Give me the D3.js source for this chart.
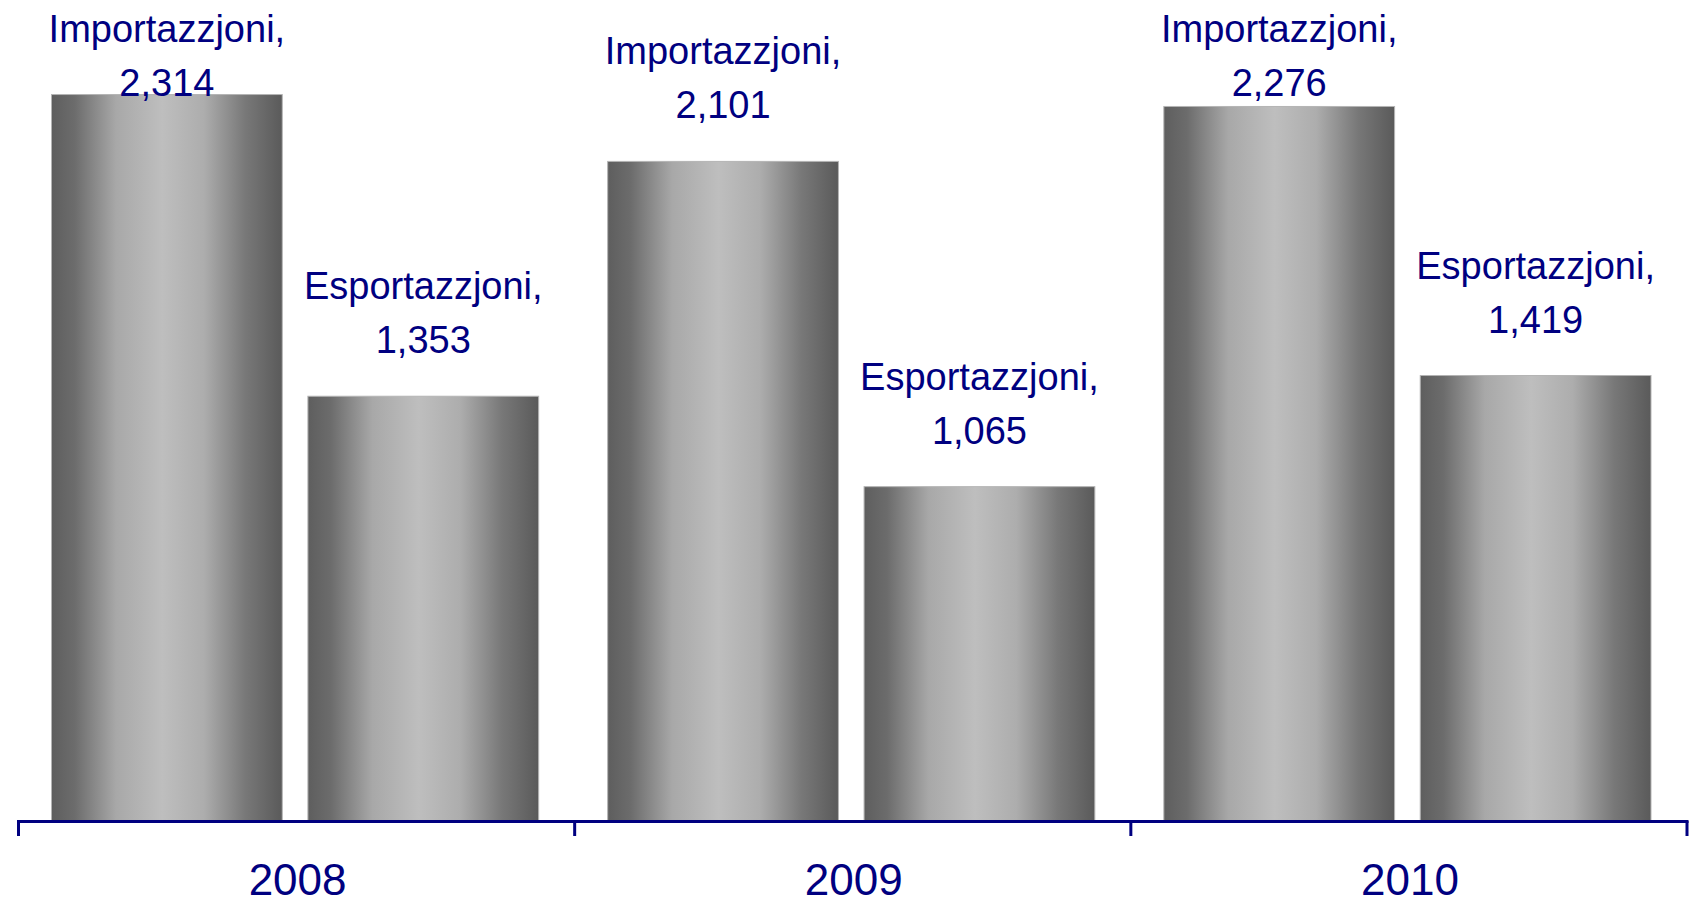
<!DOCTYPE html>
<html>
<head>
<meta charset="utf-8">
<title>Importazzjoni u Esportazzjoni</title>
<script src="https://cdn.jsdelivr.net/npm/d3@7"></script>
<style>
    html, body { margin: 0; padding: 0; background: #fff; }
    svg { display: block; }
    text { font-family: "Liberation Sans", Arial, sans-serif; fill: #000080; }
</style>
</head>
<body>
<div id="chart"></div>
<script>
/*jslint browser: true */

var years = ["2008", "2009", "2010"];
var series = ["Importazzjoni", "Esportazzjoni"];
var importazzjoni = [2314, 2101, 2276];
var esportazzjoni = [1353, 1065, 1419];

(function (d3) {
    "use strict";

    var width = 1689, height = 903,
        baseY = 821, axisLeft = 18.5, axisRight = 1687,
        navy = "#000080",
        svg, defs, grad, x0, x1, y, rows, groups, fmt;

    svg = d3.select("#chart").append("svg")
        .attr("width", width)
        .attr("height", height);

    // cylinder-like shading across each bar
    defs = svg.append("defs");
    grad = defs.append("linearGradient")
        .attr("id", "barShade")
        .attr("x1", "0%").attr("x2", "100%")
        .attr("y1", "0%").attr("y2", "0%");
    [[0, "#5e5e5e"], [0.1, "#6c6c6c"], [0.28, "#a8a8a8"], [0.48, "#bebebe"],
        [0.66, "#adadad"], [0.84, "#787878"], [1, "#5a5a5a"]].forEach(function (s) {
        grad.append("stop").attr("offset", s[0]).attr("stop-color", s[1]);
    });

    x0 = d3.scaleBand().domain(years).range([axisLeft, axisRight]);
    x1 = d3.scaleBand().domain(series)
        .range([33, x0.bandwidth() - 36])
        .paddingInner(0.1);
    y = d3.scaleLinear().domain([0, 2500]).range([baseY, baseY - 2500 * 0.31394]);

    rows = years.map(function (yr, i) {
        return {
            year: yr,
            values: [
                {name: series[0], value: importazzjoni[i]},
                {name: series[1], value: esportazzjoni[i]}
            ]
        };
    });

    fmt = d3.format(",");

    groups = svg.selectAll("g.year")
        .data(rows)
        .enter().append("g")
        .attr("class", "year")
        .attr("transform", function (d) { return "translate(" + x0(d.year) + ",0)"; });

    groups.selectAll("rect")
        .data(function (d) { return d.values; })
        .enter().append("rect")
        .attr("x", function (d) { return x1(d.name); })
        .attr("y", function (d) { return y(d.value); })
        .attr("width", x1.bandwidth())
        .attr("height", function (d) { return baseY - y(d.value); })
        .attr("fill", "url(#barShade)")
        .attr("stroke", "#b4b4b4")
        .attr("stroke-width", 1);

    // data labels: two lines, kept inside the chart at the top
    groups.selectAll("text.lbl")
        .data(function (d) { return d.values; })
        .enter().append("text")
        .attr("class", "lbl")
        .attr("text-anchor", "middle")
        .style("font-size", "38px")
        .each(function (d) {
            var cx = x1(d.name) + x1.bandwidth() / 2,
                first = Math.max(y(d.value) - 97, 42),
                t = d3.select(this);
            t.append("tspan").attr("x", cx).attr("y", first).text(d.name + ",");
            t.append("tspan").attr("x", cx).attr("y", first + 54).text(fmt(d.value));
        });

    // category axis
    svg.append("line")
        .attr("x1", axisLeft - 1.5).attr("x2", axisRight + 1.5)
        .attr("y1", baseY + 0.5).attr("y2", baseY + 0.5)
        .attr("stroke", navy).attr("stroke-width", 3);

    svg.selectAll("line.tick")
        .data(years.map(function (yr) { return x0(yr); }).concat([axisRight]))
        .enter().append("line")
        .attr("class", "tick")
        .attr("x1", function (d) { return d; })
        .attr("x2", function (d) { return d; })
        .attr("y1", baseY).attr("y2", 836)
        .attr("stroke", navy).attr("stroke-width", 3);

    svg.selectAll("text.yr")
        .data(years)
        .enter().append("text")
        .attr("class", "yr")
        .attr("x", function (d) { return x0(d) + x0.bandwidth() / 2 + 1; })
        .attr("y", 895)
        .attr("text-anchor", "middle")
        .style("font-size", "44px")
        .text(function (d) { return d; });

}(window.d3));
</script>
</body>
</html>
